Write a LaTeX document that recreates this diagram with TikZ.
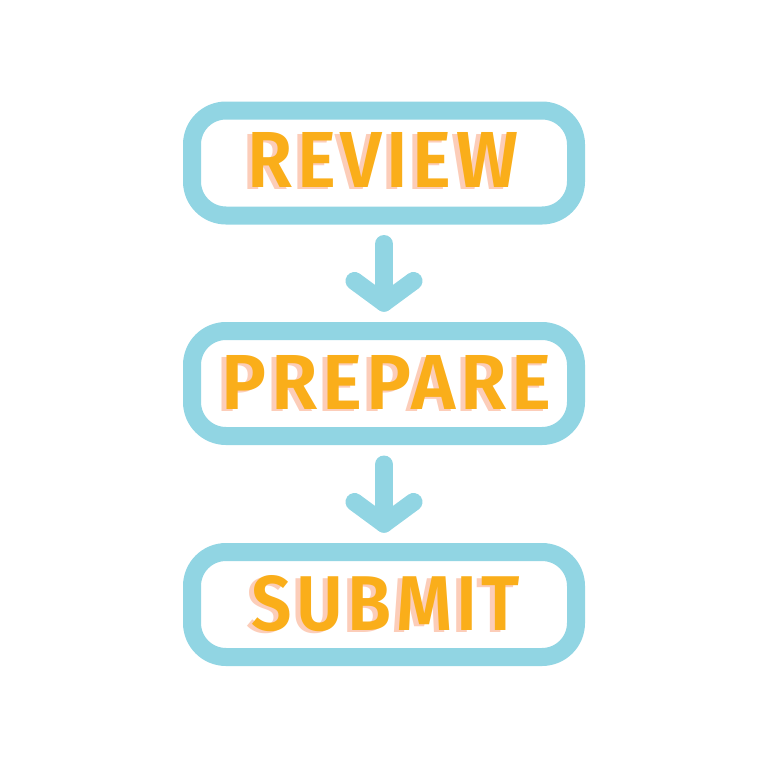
\documentclass[tikz,border=0pt]{standalone}
\usepackage{fontspec}
\setmainfont{Fira Sans}
\newfontfamily\labelfont{Fira Sans SemiBold}[LetterSpace=6]
\definecolor{boxblue}{RGB}{145,213,227}
\definecolor{txtorange}{RGB}{250,174,26}
\definecolor{txtpink}{RGB}{252,205,185}
\tikzset{
  stepbox/.style={draw=boxblue, line width=18pt, rounded corners=34pt, fill=white,
    minimum width=384pt, minimum height=105pt, inner sep=0pt, outer sep=0pt},
  word/.style={inner sep=0pt, outer sep=0pt, anchor=center},
  flowarrow/.style={draw=boxblue, line width=18pt, line cap=round, line join=round}
}
\newcommand{\fitword}[3]{%
  \rlap{\kern-5pt\raisebox{-2pt}{\color{txtpink}\resizebox{#1pt}{#2pt}{\labelfont #3}}}%
  {\color{txtorange}\resizebox{#1pt}{#2pt}{\labelfont #3}}}
\begin{document}
\begin{tikzpicture}[x=1pt,y=-1pt]
\useasboundingbox (0,0) rectangle (768,768);
% boxes
\node[stepbox] (b1) at (384,163) {};
\node[stepbox] (b2) at (384,383.5) {};
\node[stepbox] (b3) at (384,604.5) {};
% texts with shadow
\node[word] (t1) at (383,160.5) {\fitword{270}{55}{REVIEW}};
\node[word] (t2) at (386.7,383.8) {\fitword{330}{54}{PREPARE}};
\node[word] (t3) at (386,604.5) {\fitword{268}{55}{SUBMIT}};
% arrows
\coordinate (a1top) at ([yshift=-28.5pt]b1.south);
\coordinate (a1tip) at ([yshift=28.3pt]b2.north);
\draw[flowarrow] (a1top) -- (a1tip);
\draw[flowarrow] ([shift={(-29.5,-21.7)}]a1tip) -- (a1tip) -- ([shift={(29.5,-21.7)}]a1tip);
\coordinate (a2top) at ([yshift=-28.5pt]b2.south);
\coordinate (a2tip) at ([yshift=28.3pt]b3.north);
\draw[flowarrow] (a2top) -- (a2tip);
\draw[flowarrow] ([shift={(-29.5,-21.7)}]a2tip) -- (a2tip) -- ([shift={(29.5,-21.7)}]a2tip);
\end{tikzpicture}
\end{document}
